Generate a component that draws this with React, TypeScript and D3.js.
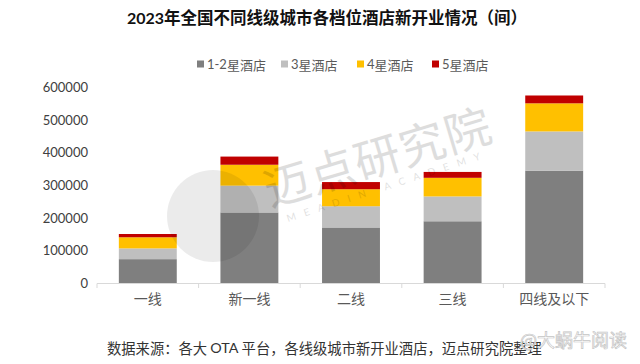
import * as d3 from "d3";
import { useEffect, useRef } from "react";

// categories and stacked series (rooms opened in 2023)
const categories = ["一线", "新一线", "二线", "三线", "四线及以下"];
const seriesNames = ["1-2星酒店", "3星酒店", "4星酒店", "5星酒店"];
const star12 = [73000, 216000, 170000, 189000, 344000];
const star3 = [33000, 82000, 65000, 76000, 120000];
const star4 = [34000, 64000, 52000, 57000, 86000];
const star5 = [10000, 25000, 22000, 18000, 24000];
const yTicks = [0, 100000, 200000, 300000, 400000, 500000, 600000];

const colors = ["#7f7f7f", "#bfbfbf", "#ffc000", "#c00000"];
const CJK = "'Noto Sans CJK SC', sans-serif";

export default function App() {
  const svgRef = useRef(null);

  useEffect(() => {
    const width = 640;
    const height = 364;
    const svg = d3.select(svgRef.current);
    svg.selectAll("*").remove();
    svg.attr("width", width).attr("height", height);

    svg.append("rect").attr("width", width).attr("height", height).attr("fill", "#fff");

    const rows = categories.map((c, i) => ({
      cat: c,
      s0: star12[i],
      s1: star3[i],
      s2: star4[i],
      s3: star5[i],
    }));

    const x = d3
      .scaleBand()
      .domain(categories)
      .range([97, 605])
      .paddingInner(0.43)
      .paddingOuter(0.215);

    const y = d3.scaleLinear().domain([0, 600000]).range([283, 87]);

    // title
    const title = svg
      .append("text")
      .attr("x", 327)
      .attr("y", 17)
      .attr("text-anchor", "middle")
      .attr("dominant-baseline", "central")
      .attr("font-family", CJK)
      .attr("font-weight", 600)
      .attr("font-size", 16.5)
      .attr("fill", "#111");
    title.append("tspan").attr("font-family", "Lato, sans-serif").attr("font-weight", "bold").attr("font-size", 16).text("2023");
    title.append("tspan").text("年全国不同线级城市各档位酒店新开业情况（间）");

    // legend
    const legendX = [197, 281, 357, 432];
    seriesNames.forEach((name, i) => {
      const g = svg.append("g").attr("transform", `translate(${legendX[i]},64)`);
      g.append("rect").attr("x", 0).attr("y", -3.5).attr("width", 7).attr("height", 7).attr("fill", colors[i]);
      const t = g
        .append("text")
        .attr("x", 10)
        .attr("y", 0)
        .attr("dominant-baseline", "central")
        .attr("font-size", 13)
        .attr("fill", "#595959")
        .attr("font-family", CJK);
      const m = name.match(/^([0-9-]+)(.*)$/);
      t.append("tspan").attr("font-family", "Lato, sans-serif").text(m[1]);
      t.append("tspan").text(m[2]);
    });

    // y axis labels
    svg
      .append("g")
      .selectAll("text")
      .data(yTicks)
      .enter()
      .append("text")
      .attr("x", 88)
      .attr("y", (d) => y(d))
      .attr("text-anchor", "end")
      .attr("dominant-baseline", "central")
      .attr("font-family", "Lato, sans-serif")
      .attr("font-size", 13)
      .attr("fill", "#404040")
      .text((d) => d);

    // stacked bars
    const stack = d3.stack().keys(["s0", "s1", "s2", "s3"]);
    const layers = stack(rows);
    svg
      .append("g")
      .selectAll("g")
      .data(layers)
      .enter()
      .append("g")
      .attr("fill", (_, i) => colors[i])
      .selectAll("rect")
      .data((d) => d)
      .enter()
      .append("rect")
      .attr("x", (d) => x(d.data.cat))
      .attr("width", x.bandwidth())
      .attr("y", (d) => y(d[1]))
      .attr("height", (d) => y(d[0]) - y(d[1]));

    // x axis line + boundary ticks
    const step = x.step();
    const bounds = categories.map((c) => x(c) - (step * x.paddingInner()) / 2);
    bounds.push(bounds[bounds.length - 1] + step);
    const axis = svg.append("g").attr("stroke", "#d9d9d9").attr("stroke-width", 1);
    axis.append("line").attr("x1", bounds[0]).attr("x2", bounds[bounds.length - 1]).attr("y1", 283.5).attr("y2", 283.5);
    axis
      .selectAll("line.tick")
      .data(bounds)
      .enter()
      .append("line")
      .attr("class", "tick")
      .attr("x1", (d) => d)
      .attr("x2", (d) => d)
      .attr("y1", 283.5)
      .attr("y2", 288);

    svg
      .append("g")
      .selectAll("text")
      .data(categories)
      .enter()
      .append("text")
      .attr("x", (d) => x(d) + x.bandwidth() / 2)
      .attr("y", 298)
      .attr("text-anchor", "middle")
      .attr("dominant-baseline", "central")
      .attr("font-family", CJK)
      .attr("font-size", 14)
      .attr("fill", "#595959")
      .text((d) => d);

    // watermark
    const wm = svg.append("g").attr("fill", "#000");
    wm.append("circle").attr("cx", 213).attr("cy", 216).attr("r", 46).attr("opacity", 0.08);
    wm.append("text")
      .attr("transform", "translate(270,207) rotate(-16.6)")
      .attr("opacity", 0.13)
      .attr("font-family", CJK)
      .attr("font-size", 46)
      .attr("letter-spacing", 1)
      .text("迈点研究院");
    wm.append("text")
      .attr("transform", "translate(288,222) rotate(-18)")
      .attr("opacity", 0.12)
      .attr("font-family", "Lato, sans-serif")
      .attr("font-size", 10)
      .attr("letter-spacing", 8.6)
      .text("MEADIN ACADEMY");

    // source note
    const note = svg
      .append("text")
      .attr("x", 107)
      .attr("y", 347)
      .attr("dominant-baseline", "central")
      .attr("font-family", CJK)
      .attr("font-size", 14.3)
      .attr("fill", "#333");
    note.append("tspan").text("数据来源：各大 ");
    note.append("tspan").attr("font-family", "Lato, sans-serif").text("OTA");
    note.append("tspan").text(" 平台，各线级城市新开业酒店，迈点研究院整理");

    svg
      .append("text")
      .attr("x", 520)
      .attr("y", 339)
      .attr("dominant-baseline", "central")
      .attr("font-family", CJK)
      .attr("font-size", 18)
      .attr("fill", "#fff")
      .attr("stroke", "#c4c4c4")
      .attr("stroke-width", 0.7)
      .text("@大蜗牛阅读");
  }, []);

  return (
    <div style={{ margin: -8 }}>
      <svg ref={svgRef}></svg>
    </div>
  );
}
